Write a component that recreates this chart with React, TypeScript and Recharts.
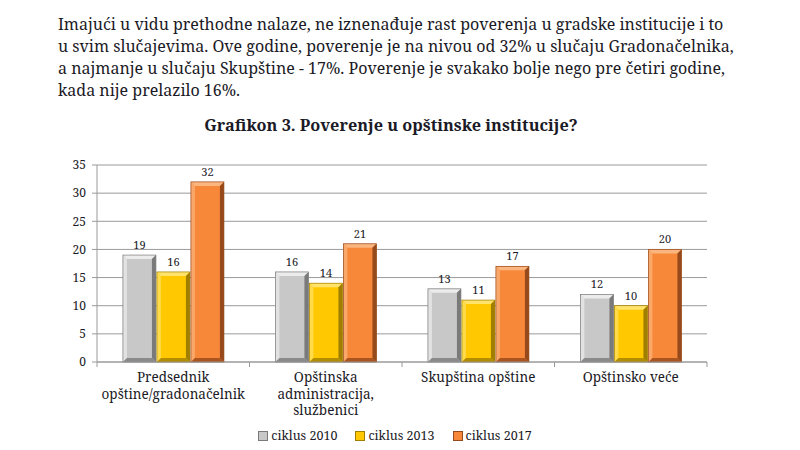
import React from "react";
import {
  BarChart,
  Bar,
  XAxis,
  YAxis,
  CartesianGrid,
  Legend,
  LabelList,
} from "recharts";

// ─── Data ────────────────────────────────────────────────────────────────────

const categories = [
  "Predsednik\nopštine/gradonačelnik",
  "Opštinska\nadministracija,\nslužbenici",
  "Skupština opštine",
  "Opštinsko veće",
];

const ciklus2010 = [19, 16, 13, 12];
const ciklus2013 = [16, 14, 11, 10];
const ciklus2017 = [32, 21, 17, 20];

const seriesNames = ["ciklus 2010", "ciklus 2013", "ciklus 2017"];
const yTicks = [0, 5, 10, 15, 20, 25, 30, 35];

const paragraph = [
  "Imajući u vidu prethodne nalaze, ne iznenađuje rast poverenja u gradske institucije i to",
  "u svim slučajevima. Ove godine, poverenje je na nivou od 32% u slučaju Gradonačelnika,",
  "a najmanje u slučaju Skupštine - 17%. Poverenje je svakako bolje nego pre četiri godine,",
  "kada nije prelazilo 16%.",
];
const title = "Grafikon 3. Poverenje u opštinske institucije?";

// ─── Styles ──────────────────────────────────────────────────────────────────

const FONT = "'Noto Serif', 'Liberation Serif', serif";
const TEXT = "#1b1a26";
const GRID = "#9a9a9a";

const palettes = [
  { base: "#c8c8c8", light: "#ececec", dark: "#7a7a7a" },
  { base: "#ffc800", light: "#ffe36a", dark: "#a07e00" },
  { base: "#f7883a", light: "#fbb57f", dark: "#96491a" },
];

const data = categories.map((name, i) => ({
  name,
  c2010: ciklus2010[i],
  c2013: ciklus2013[i],
  c2017: ciklus2017[i],
}));

const keys = ["c2010", "c2013", "c2017"];

// ─── Bevelled bar ────────────────────────────────────────────────────────────

function makeBevel(p: { base: string; light: string; dark: string }) {
  return function BevelBar(props: any) {
    const { x, y, width: w, height: h } = props;
    if (!h || h <= 0) return null;
    const b = Math.min(4, w / 4, h / 4);
    return (
      <g>
        <rect x={x} y={y} width={w} height={h} fill={p.base} />
        <polygon
          points={`${x},${y} ${x + w},${y} ${x + w - b},${y + b} ${x + b},${y + b}`}
          fill={p.light}
        />
        <polygon
          points={`${x},${y} ${x + b},${y + b} ${x + b},${y + h - b} ${x},${y + h}`}
          fill={p.light}
          opacity={0.7}
        />
        <polygon
          points={`${x + w},${y} ${x + w},${y + h} ${x + w - b},${y + h - b} ${x + w - b},${y + b}`}
          fill={p.dark}
        />
        <polygon
          points={`${x},${y + h} ${x + w},${y + h} ${x + w - b},${y + h - b} ${x + b},${y + h - b}`}
          fill={p.dark}
          opacity={0.8}
        />
        <rect x={x} y={y} width={w} height={h} fill="none" stroke={p.dark} strokeWidth={0.7} />
      </g>
    );
  };
}

// ─── Axis tick ───────────────────────────────────────────────────────────────

// Draws the category label plus the small boundary ticks between categories.
function CategoryTick(props: any) {
  const { x, y, payload, index } = props;
  const half = payload?.offset ?? 0;
  const lines = String(payload.value).split("\n");
  return (
    <g>
      <line x1={x - half} x2={x - half} y1={y} y2={y + 5} stroke={GRID} />
      {index === categories.length - 1 && (
        <line x1={x + half} x2={x + half} y1={y} y2={y + 5} stroke={GRID} />
      )}
      <text x={x} y={y + 20} textAnchor="middle" fontSize={13.5} fill={TEXT} fontFamily={FONT}>
        {lines.map((l, i) => (
          <tspan key={i} x={x} dy={i === 0 ? 0 : 16.5}>
            {l}
          </tspan>
        ))}
      </text>
    </g>
  );
}

function LegendContent() {
  return (
    <div style={{ display: "flex", justifyContent: "center", gap: 18, fontFamily: FONT, fontSize: 12.5, color: TEXT }}>
      {seriesNames.map((n, i) => (
        <span key={n} style={{ display: "flex", alignItems: "center" }}>
          <span
            style={{
              display: "inline-block",
              width: 8,
              height: 8,
              marginRight: 3,
              background: palettes[i].base,
              border: `1px solid ${palettes[i].dark}`,
            }}
          />
          {n}
        </span>
      ))}
    </div>
  );
}

// ─── Main ────────────────────────────────────────────────────────────────────

export default function App() {
  return (
    <div
      style={{
        position: "absolute",
        left: 0,
        top: 0,
        width: 800,
        height: 450,
        background: "#fff",
        fontFamily: FONT,
        color: TEXT,
      }}
    >
      <div style={{ position: "absolute", left: 58, top: 13, width: 665, fontSize: 16, lineHeight: "22px" }}>
        {paragraph.map((line, i) => (
          <div
            key={i}
            style={{
              textAlign: "justify",
              textAlignLast: i < paragraph.length - 1 ? "justify" : "left",
              whiteSpace: "nowrap",
            }}
          >
            {line}
          </div>
        ))}
      </div>
      <div
        style={{
          position: "absolute",
          left: 0,
          top: 114,
          width: 782,
          textAlign: "center",
          fontWeight: "bold",
          fontSize: 16.3,
        }}
      >
        {title}
      </div>
      <div style={{ position: "absolute", left: 0, top: 0 }}>
        <BarChart
          width={800}
          height={450}
          data={data}
          margin={{ top: 165, right: 93, left: 57, bottom: 3 }}
          barCategoryGap="17%"
          barGap={1}
        >
          <CartesianGrid vertical={false} stroke={GRID} />
          <XAxis
            dataKey="name"
            height={65}
            interval={0}
            stroke={GRID}
            tickLine={false}
            tickSize={0}
            tickMargin={0}
            tick={<CategoryTick />}
          />
          <YAxis
            width={40}
            domain={[0, 35]}
            ticks={yTicks}
            interval={0}
            stroke={GRID}
            tickSize={5}
            tickMargin={6}
            tick={{ fontSize: 12, fill: TEXT, fontFamily: FONT }}
          />
          <Legend
            verticalAlign="bottom"
            height={20}
            content={<LegendContent />}
            wrapperStyle={{ left: 0, width: 790 }}
          />
          {keys.map((k, i) => (
            <Bar
              key={k}
              dataKey={k}
              name={seriesNames[i]}
              fill={palettes[i].base}
              shape={makeBevel(palettes[i])}
              isAnimationActive={false}
            >
              <LabelList
                dataKey={k}
                position="top"
                offset={6}
                fontSize={11}
                fill={TEXT}
                fontFamily={FONT}
              />
            </Bar>
          ))}
        </BarChart>
      </div>
    </div>
  );
}
